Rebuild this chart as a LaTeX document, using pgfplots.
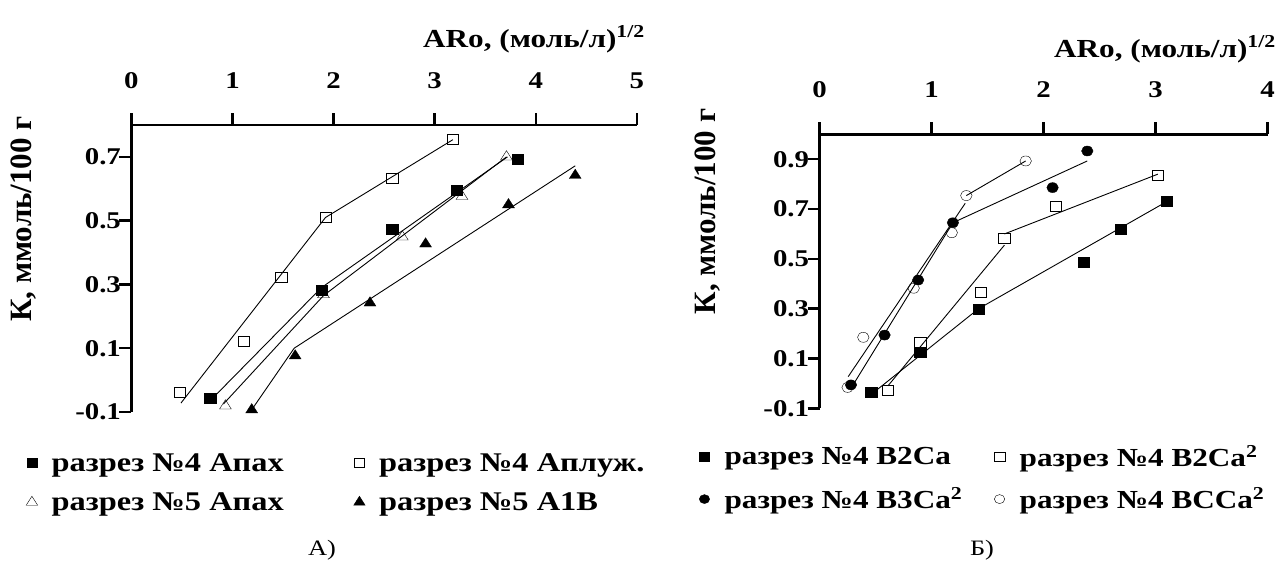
\documentclass[border=0pt]{standalone}
\usepackage{fontspec}
\setmainfont{Liberation Serif}[FakeStretch=1.2]
\newfontfamily\plainfont{Liberation Serif}
\usepackage{pgfplots}
\pgfplotsset{compat=1.18}
\pgfplotsset{
  myaxis/.style={
    scale only axis, anchor=north west, clip=false,
    axis x line*=top, axis y line*=left,
    tick align=outside, major tick length=12pt,
    axis line style={line width=2.5pt},
    tick style={line width=2.5pt, black},
    font=\fontsize{24}{28}\selectfont\bfseries,
    /pgf/number format/assume math mode=true,
    xticklabel style={anchor=south, yshift=21pt},
    yticklabel style={anchor=east, xshift=5pt},
    legend columns=2,
    legend cell align=left,
    legend style={draw=none, fill=none, inner sep=0pt, nodes={inner sep=0pt}},
    legend image code/.code={\draw[mark size=4.5pt, #1] plot coordinates {(0pt,0pt)};},
  },
  ln/.style={black, line width=0.9pt, no marks, forget plot},
  msq/.style={mark size=5pt, mark options={xscale=1.15}},
  trileg/.style={legend image code/.code={\draw[#1, mark size=6pt] plot coordinates {(0pt,0pt)};}},
}
\begin{document}
\begin{tikzpicture}
\path[use as bounding box] (0pt,0pt) rectangle (1279pt,-560pt);

% ---------- Panel A ----------
\begin{axis}[myaxis, at={(131.4pt,-125pt)}, width=505.5pt, height=287pt,
  xmin=0, xmax=5, ymin=-0.1, ymax=0.8,
  xtick={0,1,2,3,4,5}, xticklabels={0,1,2,3,4,5},
  ytick={-0.1,0.1,0.3,0.5,0.7}, yticklabels={-0.1,0.1,0.3,0.5,0.7},
  legend style={at={(-0.2085,-0.143)}, anchor=north west, row sep=20pt,
    font=\fontsize{27}{30}\selectfont\bfseries,
    /tikz/every odd column/.append style={column sep=14pt},
    /tikz/every even column/.append style={column sep=70pt}}]
\addplot[ln] coordinates {(3.18,0.754)(1.92,0.51)(0.49,-0.072)};
\addplot[ln] coordinates {(3.72,0.70)(1.88,0.29)(0.84,-0.045)};
\addplot[ln] coordinates {(3.71,0.70)(1.90,0.265)(0.91,-0.075)};
\addplot[ln] coordinates {(4.39,0.672)(1.61,0.10)(1.19,-0.093)};
\addplot[only marks, mark=square*, msq, fill=black] coordinates {(0.78,-0.057)(1.88,0.283)(2.58,0.474)(3.22,0.594)(3.82,0.694)};
\addlegendentry{разрез №4 Апах}
\addplot[only marks, mark=square, msq, fill=white] coordinates {(0.48,-0.039)(1.11,0.123)(1.48,0.322)(1.92,0.51)(2.58,0.632)(3.18,0.754)};
\addlegendentry{разрез №4 Аплуж.}
\addplot[only marks, mark=triangle, mark size=6.2pt, mark options={xscale=1.1}, fill=white, trileg] coordinates {(0.93,-0.081)(1.90,0.268)(2.68,0.449)(3.27,0.576)(3.71,0.70)};
\addlegendentry{разрез №5 Апах}
\addplot[only marks, mark=triangle*, mark size=6.2pt, mark options={xscale=1.1}, fill=black, trileg] coordinates {(1.19,-0.093)(1.62,0.076)(2.36,0.242)(2.91,0.427)(3.73,0.55)(4.39,0.642)};
\addlegendentry{разрез №5 A1B}
\end{axis}

% ---------- Panel B ----------
\begin{axis}[myaxis, at={(819.6pt,-134.3pt)}, width=448pt, height=274pt,
  xmin=0, xmax=4, ymin=-0.1, ymax=1.0,
  xtick={0,1,2,3,4}, xticklabels={0,1,2,3,4},
  ytick={-0.1,0.1,0.3,0.5,0.7,0.9}, yticklabels={-0.1,0.1,0.3,0.5,0.7,0.9},
  legend style={at={(-0.269,-0.134)}, anchor=north west, row sep=20pt,
    font=\fontsize{26}{29}\selectfont\bfseries,
    /tikz/every odd column/.append style={column sep=15pt},
    /tikz/every even column/.append style={column sep=32pt}}]
\addplot[ln] coordinates {(3.10,0.73)(1.42,0.30)(0.50,-0.03)};
\addplot[ln] coordinates {(3.02,0.84)(1.65,0.60)};
\addplot[ln] coordinates {(1.65,0.555)(0.61,-0.01)};
\addplot[ln] coordinates {(2.39,0.893)(1.19,0.645)(0.30,-0.005)};
\addplot[ln] coordinates {(1.84,0.893)(1.31,0.754)};
\addplot[ln] coordinates {(1.30,0.723)(0.255,0.027)};
\addplot[only marks, mark=square*, msq, fill=black] coordinates {(0.46,-0.037)(0.90,0.127)(1.42,0.298)(2.36,0.485)(2.69,0.619)(3.10,0.731)};
\addlegendentry{разрез №4 B2Ca}
\addplot[only marks, mark=square, msq, fill=white] coordinates {(0.61,-0.027)(0.90,0.167)(1.44,0.366)(1.65,0.584)(2.11,0.712)(3.02,0.834)};
\addlegendentry{разрез №4 B2Ca\textsuperscript{2}}
\addplot[only marks, mark=*, msq, fill=black] coordinates {(0.28,-0.006)(0.58,0.194)(0.88,0.415)(1.19,0.645)(2.08,0.786)(2.39,0.933)};
\addlegendentry{разрез №4 B3Ca\textsuperscript{2}}
\addplot[only marks, mark=o, msq, fill=white] coordinates {(0.25,-0.016)(0.39,0.185)(0.84,0.382)(1.18,0.605)(1.31,0.754)(1.84,0.893)};
\addlegendentry{разрез №4 BCCa\textsuperscript{2}}
\end{axis}

% ---------- titles ----------
\node[anchor=base east, inner sep=0pt, font=\fontsize{26}{30}\selectfont\bfseries] at (645pt,-47pt) {ARo, (моль/л)\textsuperscript{1/2}};
\node[anchor=base east, inner sep=0pt, font=\fontsize{26}{30}\selectfont\bfseries] at (1276pt,-57pt) {ARo, (моль/л)\textsuperscript{1/2}};
\node[rotate=90, inner sep=0pt, font=\plainfont\fontsize{31}{34}\selectfont\bfseries] at (23.5pt,-219pt) {К, ммоль/100 г};
\node[rotate=90, inner sep=0pt, font=\plainfont\fontsize{31}{34}\selectfont\bfseries] at (708pt,-211.5pt) {К, ммоль/100 г};
\node[inner sep=0pt, font=\fontsize{22}{26}\selectfont] at (322pt,-550pt) {А)};
\node[inner sep=0pt, font=\fontsize{22}{26}\selectfont] at (982pt,-550pt) {Б)};
\end{tikzpicture}
\end{document}
